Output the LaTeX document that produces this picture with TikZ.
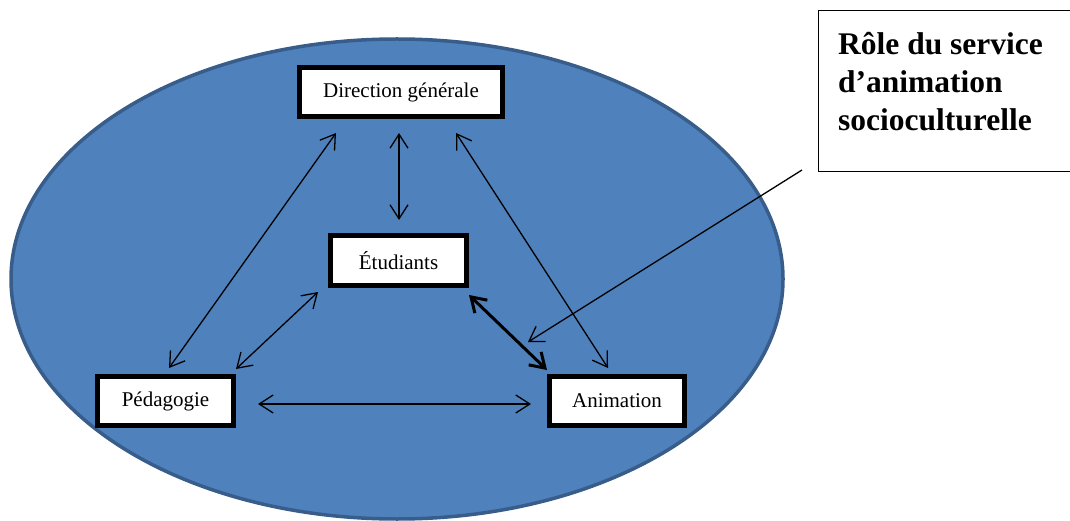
\documentclass[tikz,border=0pt]{standalone}
\usepackage{fontspec}
\setmainfont{Liberation Serif}
\usetikzlibrary{arrows.meta}
\definecolor{blobfill}{HTML}{4F81BD}
\definecolor{blobline}{HTML}{385D8A}

\begin{document}
\begin{tikzpicture}
[every node/.style={inner sep=0pt},
 unit/.style={rectangle, fill=white, draw=black, line width=5pt, font=\fontsize{21}{24}\selectfont},
 link/.style={line width=1.3pt, {Straight Barb[length=14pt, width=18pt]}-{Straight Barb[length=14pt, width=18pt]}, color=black}]
\clip (0pt, 0pt) rectangle (1070pt, -521pt);
\draw [fill=blobfill, draw=blobline, line width=3.5pt] (397pt, -279pt) ellipse [x radius=386pt, y radius=240pt];
\node (dir) [unit, minimum width=203pt, minimum height=49pt] at (401pt, -92pt) {Direction générale};
\node (etu) [unit, minimum width=136pt, minimum height=50pt] at (398.5pt, -260.5pt) {Étudiants};
\node (ped) [unit, minimum width=136pt, minimum height=49pt] at (165.5pt, -401pt) {Pédagogie};
\node (anim) [unit, minimum width=135pt, minimum height=49pt] at (617pt, -401pt) {Animation};
\node (role) [rectangle, fill=white, draw=black, line width=1pt, anchor=north west, minimum width=270pt, minimum height=161pt] at (818pt, -10pt) {};
\node (roletext) [anchor=north west, align=left, font=\fontsize{31.5}{38}\selectfont\bfseries] at (838pt, -32pt) {Rôle du service\\d’animation\\socioculturelle};
\coordinate (pin) at (802pt, -170pt);
\draw [link] ([shift={(-65pt,-14pt)}]dir.south) to ([shift={(3.5pt,6pt)}]ped.north);
\draw [link] ([shift={(-2pt,-14pt)}]dir.south) to ([shift={(0.5pt,13pt)}]etu.north);
\draw [link] ([shift={(55pt,-14pt)}]dir.south) to ([shift={(-9pt,6pt)}]anim.north);
\draw [link] ([shift={(-10pt,-4pt)}]etu.south west) to ([shift={(0pt,5pt)}]ped.north east);
\draw [link, line width=3pt] ([shift={(0pt,-7pt)}]etu.south east) to ([shift={(0pt,4pt)}]anim.north west);
\draw [link] ([shift={(22pt,-3pt)}]ped.east) to ([shift={(-16pt,-3pt)}]anim.west);
\draw [line width=1.3pt, -{Straight Barb[length=14pt, width=18pt]}, color=black] (pin) to ([shift={(-19pt,32pt)}]anim.north west);
\end{tikzpicture}
\end{document}
